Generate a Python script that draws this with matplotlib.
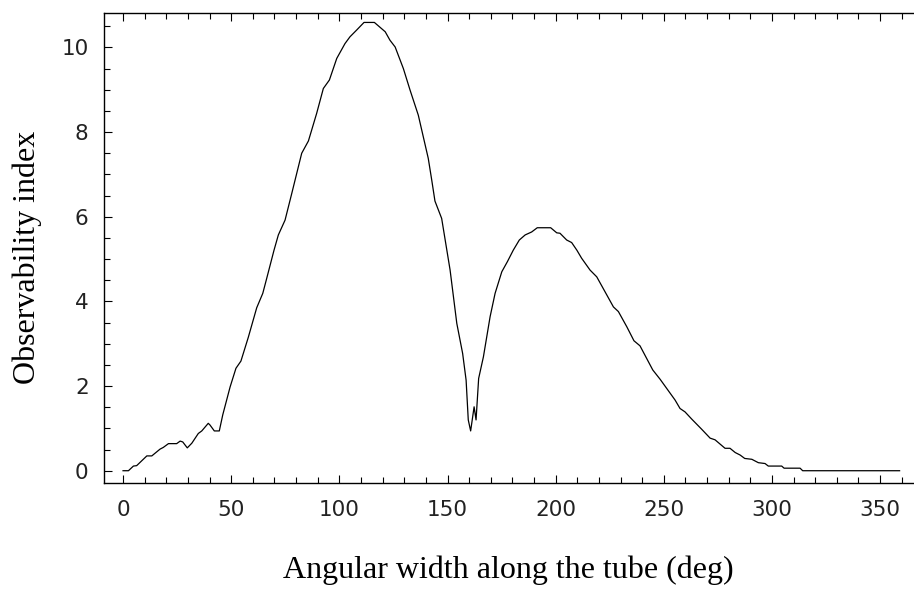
import matplotlib
matplotlib.use("Agg")
import matplotlib.pyplot as plt
from matplotlib.ticker import MultipleLocator

# angle (deg) and observability index
angle = [0, 2.5, 4.8, 6.3, 11, 13.3, 17.1, 18.6, 21, 24.8, 26.4, 27.6, 29.7,
         31.8, 34.8, 36.4, 39.4, 40.2, 42.2, 44.5, 46.1, 49.5, 52.2, 54.5,
         57.9, 61.8, 64.6, 66.4, 69.8, 71.8, 74.9, 78, 82.6, 85.7, 89.5, 92.6,
         95.4, 98.8, 102.6, 104.9, 108, 111.4, 116.2, 121.2, 123.4, 125.8,
         129.6, 132.7, 136.5, 138.8, 141.1, 142.7, 144.2, 147.3, 151.2, 154.3,
         157, 158.6, 159.6, 160.7, 162.3, 163.2, 164.4, 166.6, 169.7, 172,
         175.1, 177.7, 180.4, 183.2, 185.9, 188.9, 191.5, 197.7, 200.5, 202,
         205.1, 207.4, 209.8, 212, 215.9, 219, 222.8, 226.7, 229, 232.9, 236.2,
         239, 242.1, 244.9, 248.3, 252.1, 255.2, 257.5, 259.8, 262.9, 267.5,
         271.4, 273.7, 278.3, 280.6, 283, 285.3, 287.4, 290.7, 293.7, 296.8,
         298.3, 304.5, 305.6, 313, 314.2, 359]
index = [0, 0, 0.11, 0.12, 0.35, 0.35, 0.51, 0.55, 0.64, 0.64, 0.70, 0.68, 0.54,
         0.65, 0.88, 0.94, 1.12, 1.08, 0.94, 0.94, 1.32, 1.98, 2.42, 2.59,
         3.15, 3.85, 4.19, 4.54, 5.21, 5.57, 5.92, 6.55, 7.50, 7.79, 8.44, 9.03,
         9.23, 9.74, 10.09, 10.25, 10.41, 10.59, 10.59, 10.37, 10.17, 10.01,
         9.5, 8.99, 8.40, 7.89, 7.38, 6.87, 6.37, 5.96, 4.74, 3.48,
         2.77, 2.14, 1.2, 0.94, 1.51, 1.2, 2.18, 2.69, 3.64, 4.19,
         4.70, 4.94, 5.21, 5.45, 5.57, 5.64, 5.74, 5.74, 5.62, 5.61,
         5.45, 5.39, 5.21, 5.02, 4.74, 4.58, 4.23, 3.87, 3.76, 3.40, 3.07,
         2.95, 2.65, 2.38, 2.16, 1.89, 1.67, 1.47, 1.39, 1.22, 0.98,
         0.77, 0.73, 0.53, 0.53, 0.43, 0.37, 0.29, 0.27, 0.19, 0.17,
         0.11, 0.11, 0.06, 0.06, 0, 0]

fig = plt.figure(figsize=(9.14, 5.91), dpi=100)
ax = fig.add_axes([104 / 914, 1 - 483 / 591, 809 / 914, (483 - 12.7) / 591])

ax.plot(angle, index, color="black", linewidth=0.9)

ax.set_xlim(-8.8, 365.2)
ax.set_ylim(-0.29, 10.82)

ax.xaxis.set_major_locator(MultipleLocator(50))
ax.xaxis.set_minor_locator(MultipleLocator(10))
ax.yaxis.set_major_locator(MultipleLocator(2))
ax.yaxis.set_minor_locator(MultipleLocator(0.5))

ax.spines["right"].set_visible(False)
for s in ["left", "bottom", "top"]:
    ax.spines[s].set_linewidth(1.0)

ax.tick_params(which="both", direction="in", top=True, right=False,
               width=0.8, labelsize=15.5, colors="black")
ax.tick_params(which="major", length=6)
ax.tick_params(which="minor", length=4)
ax.tick_params(axis="x", which="major", pad=12)
ax.tick_params(axis="y", which="major", pad=11)
for lab in ax.get_xticklabels() + ax.get_yticklabels():
    lab.set_color("#222222")

ax.set_xlabel("Angular width along the tube (deg)", family="Liberation Serif",
              fontsize=23, labelpad=26)
ax.set_ylabel("Observability index", family="Liberation Serif", fontsize=23)
ax.yaxis.set_label_coords(-0.077, 0.48)

fig.savefig("out.png", dpi=100)
